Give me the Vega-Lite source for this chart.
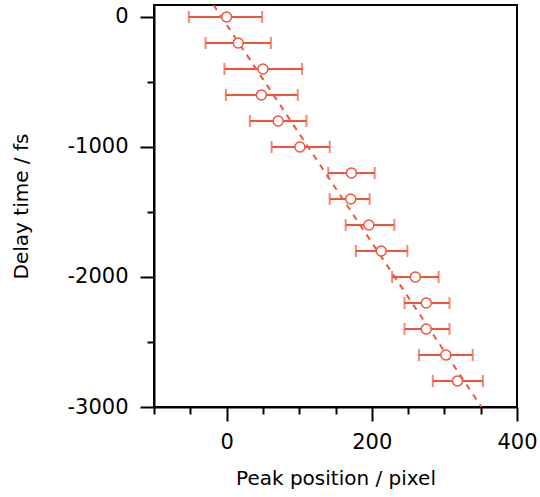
{
  "$schema": "https://vega.github.io/schema/vega-lite/v6.json",
  "width": 363,
  "height": 402,
  "autosize": "none",
  "padding": {"left": 154, "top": 5, "right": 23, "bottom": 90},
  "background": "white",
  "config": {
    "view": {"stroke": "black", "strokeWidth": 2},
    "font": "DejaVu Sans"
  },
  "datasets": {
    "pts": [
      {"x": 0, "y": 0, "lo": -52, "hi": 49},
      {"x": 16, "y": -200, "lo": -29, "hi": 61},
      {"x": 50, "y": -400, "lo": -3, "hi": 104},
      {"x": 48, "y": -600, "lo": -1, "hi": 98},
      {"x": 71, "y": -800, "lo": 32, "hi": 110},
      {"x": 101, "y": -1000, "lo": 62, "hi": 142},
      {"x": 172, "y": -1200, "lo": 140, "hi": 204},
      {"x": 171, "y": -1400, "lo": 142, "hi": 197},
      {"x": 196, "y": -1600, "lo": 164, "hi": 231},
      {"x": 213, "y": -1800, "lo": 178, "hi": 249},
      {"x": 260, "y": -2000, "lo": 228, "hi": 292},
      {"x": 275, "y": -2200, "lo": 245, "hi": 307},
      {"x": 275, "y": -2400, "lo": 245, "hi": 307},
      {"x": 302, "y": -2600, "lo": 265, "hi": 339},
      {"x": 318, "y": -2800, "lo": 284, "hi": 353}
    ],
    "fit": [
      {"x": -18, "y": 92},
      {"x": 351, "y": -3000}
    ]
  },
  "encoding": {
    "x": {
      "type": "quantitative",
      "scale": {"domain": [-100, 400], "nice": false, "zero": false},
      "axis": {
        "title": "Peak position / pixel",
        "values": [-100, -50, 0, 50, 100, 150, 200, 250, 300, 350, 400],
        "labelExpr": "datum.value % 200 === 0 ? '' + datum.value : ''",
        "tickSize": {"condition": {"test": "datum.value % 200 === 0", "value": 14}, "value": 7},
        "tickColor": "black",
        "tickWidth": 2,
        "domainColor": "black",
        "domainWidth": 2,
        "grid": false,
        "labelFontSize": 21,
        "labelColor": "black",
        "labelPadding": 10,
        "labelFlush": false,
        "labelBound": false,
        "titleFontSize": 20,
        "titleFontWeight": "normal",
        "titleColor": "black",
        "titlePadding": 16
      }
    },
    "y": {
      "type": "quantitative",
      "scale": {"domain": [-3000, 92], "nice": false, "zero": false},
      "axis": {
        "title": "Delay time / fs",
        "values": [-3000, -2500, -2000, -1500, -1000, -500, 0],
        "labelExpr": "datum.value % 1000 === 0 ? '' + datum.value : ''",
        "tickSize": {"condition": {"test": "datum.value % 1000 === 0", "value": 14}, "value": 7},
        "tickColor": "black",
        "tickWidth": 2,
        "domainColor": "black",
        "domainWidth": 2,
        "grid": false,
        "labelFontSize": 21,
        "labelColor": "black",
        "labelPadding": 12,
        "labelFlush": false,
        "labelBound": false,
        "titleFontSize": 20,
        "titleFontWeight": "normal",
        "titleColor": "black",
        "titlePadding": 35
      }
    }
  },
  "layer": [
    {
      "data": {"name": "fit"},
      "mark": {"type": "line", "color": "#f0553a", "strokeWidth": 2, "strokeDash": [6, 6], "clip": true},
      "encoding": {
        "x": {"field": "x", "type": "quantitative"},
        "y": {"field": "y", "type": "quantitative"}
      }
    },
    {
      "data": {"name": "pts"},
      "mark": {"type": "errorbar", "color": "#f0553a", "thickness": 2, "ticks": {"size": 12, "thickness": 2, "color": "#f0553a"}},
      "encoding": {
        "x": {"field": "lo", "type": "quantitative"},
        "x2": {"field": "hi"},
        "y": {"field": "y", "type": "quantitative"}
      }
    },
    {
      "data": {"name": "pts"},
      "mark": {"type": "point", "shape": "circle", "filled": false, "fill": "white", "fillOpacity": 1, "stroke": "#f0553a", "strokeWidth": 1.5, "size": 100, "opacity": 1},
      "encoding": {
        "x": {"field": "x", "type": "quantitative"},
        "y": {"field": "y", "type": "quantitative"}
      }
    }
  ]
}
